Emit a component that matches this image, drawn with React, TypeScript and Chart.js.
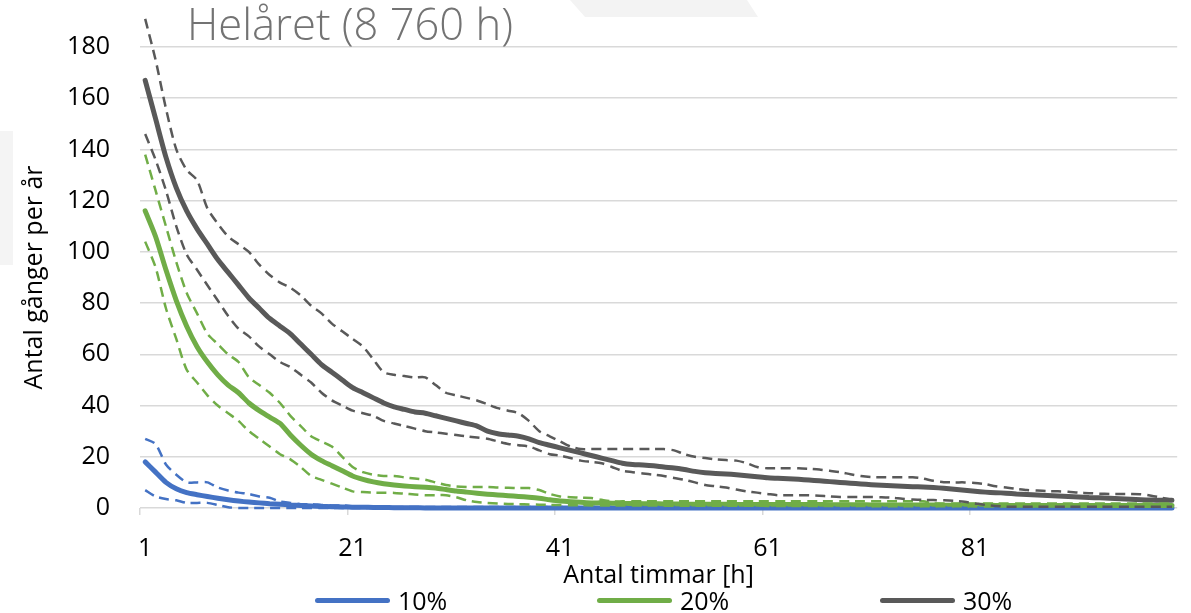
import React, { useEffect, useRef } from 'react';
import { Chart, registerables } from 'chart.js';

Chart.register(...registerables);

// Categories: hours 1..100
const hours: string[] = Array.from({ length: 100 }, (_, i) => String(i + 1));
const xTickLabels = ['1', '21', '41', '61', '81'];
const yTicks = [0, 20, 40, 60, 80, 100, 120, 140, 160, 180];

const titleText = 'Helåret (8 760 h)';
const xTitle = 'Antal timmar [h]';
const yTitle = 'Antal gånger per år';

// 10 %
const mean10 = [
  18, 14, 10, 7.5, 6, 5.2, 4.5, 3.8, 3.2, 2.7,
  2.3, 2, 1.7, 1.5, 1.2, 1, 0.8, 0.6, 0.5, 0.4,
  0.3, 0.3, 0.2, 0.2, 0.1, 0.1, 0.1, 0, 0, 0,
  0, 0, 0, 0, 0, 0, 0, 0, 0, 0,
  0, 0, 0, 0, 0, 0, 0, 0, 0, 0,
  0, 0, 0, 0, 0, 0, 0, 0, 0, 0,
  0, 0, 0, 0, 0, 0, 0, 0, 0, 0,
  0, 0, 0, 0, 0, 0, 0, 0, 0, 0,
  0, 0, 0, 0, 0, 0, 0, 0, 0, 0,
  0, 0, 0, 0, 0, 0, 0, 0, 0, 0,
];
const upper10 = [
  27, 25, 17, 13, 10, 10, 10, 8, 6.8, 6,
  5.5, 4.5, 4, 2.5, 2, 1.5, 1.5, 1.2, 1, 1,
  0.7, 0.5, 0.5, 0.5, 0.4, 0.4, 0.4, 0.4, 0.4, 0.4,
  0.4, 0.4, 0.4, 0.4, 0.4, 0.4, 0.4, 0.4, 0.4, 0.4,
  0.4, 0.4, 0.4, 0.4, 0.4, 0.4, 0.4, 0.4, 0.4, 0.4,
  0.4, 0.4, 0.4, 0.4, 0.4, 0.4, 0.4, 0.4, 0.2, 0.2,
  0.2, 0.2, 0.2, 0.2, 0.2, 0.2, 0.2, 0.2, 0.2, 0.2,
  0.2, 0.2, 0.2, 0.2, 0.2, 0.2, 0.2, 0.2, 0.2, 0.2,
  0.2, 0.2, 0.2, 0.2, 0.2, 0.2, 0.2, 0.2, 0.2, 0.2,
  0.2, 0.2, 0.2, 0.2, 0.2, 0.2, 0.2, 0.2, 0.2, 0.2,
];
const lower10 = [
  7, 4.5, 3.5, 3, 2, 2, 2, 1.2, 0.3, 0,
  0, 0, 0, 0, 0, 0, 0, 0, 0, 0,
  0, 0, 0, 0, 0, 0, 0, 0, 0, 0,
  0, 0, 0, 0, 0, 0, 0, 0, 0, 0,
  0, 0, 0, 0, 0, 0, 0, 0, 0, 0,
  0, 0, 0, 0, 0, 0, 0, 0, 0, 0,
  0, 0, 0, 0, 0, 0, 0, 0, 0, 0,
  0, 0, 0, 0, 0, 0, 0, 0, 0, 0,
  0, 0, 0, 0, 0, 0, 0, 0, 0, 0,
  0, 0, 0, 0, 0, 0, 0, 0, 0, 0,
];

// 20 %
const mean20 = [
  116, 106, 93, 81, 71, 63, 57, 52, 48, 45,
  41, 38, 35.5, 33, 28.5, 24.5, 21, 18.5, 16.5, 14.5,
  12.5, 11.2, 10.2, 9.5, 9, 8.6, 8.3, 8.1, 7.8, 7.2,
  6.6, 6.2, 5.8, 5.4, 5.1, 4.8, 4.5, 4.2, 3.8, 3.2,
  2.7, 2.4, 2.2, 2, 2, 1.9, 1.8, 1.8, 1.7, 1.7,
  1.6, 1.6, 1.5, 1.5, 1.5, 1.5, 1.5, 1.4, 1.4, 1.4,
  1.4, 1.4, 1.4, 1.4, 1.4, 1.4, 1.3, 1.3, 1.3, 1.3,
  1.2, 1.2, 1.2, 1.2, 1.2, 1.2, 1.2, 1.1, 1.1, 1.1,
  1.1, 1.1, 1, 1, 1, 1, 1, 1, 1, 1,
  1, 1, 1, 1, 1, 1, 1, 1, 1, 1,
];
const upper20 = [
  138, 124, 110, 96, 84, 76, 68, 64, 60, 57,
  51, 48, 45, 41, 36, 32, 28, 26, 24, 20,
  16, 14, 13, 12.5, 12.5, 12, 11.5, 11, 10, 9,
  8.4, 8.2, 8.2, 8.2, 8, 7.9, 7.8, 7.8, 7, 5.5,
  4.5, 4.2, 4, 3.9, 3.2, 2.6, 2.6, 2.6, 2.6, 2.6,
  2.6, 2.6, 2.6, 2.6, 2.6, 2.6, 2.6, 2.6, 2.6, 2.6,
  2.6, 2.6, 2.6, 2.6, 2.6, 2.6, 2.6, 2.6, 2.6, 2.6,
  2.6, 2.6, 2.6, 2.6, 2.6, 2.6, 1.8, 1.8, 1.8, 1.8,
  1.8, 1.8, 1.8, 1.8, 1.8, 1.8, 1.8, 1.8, 1.8, 1.8,
  1.8, 1.8, 1.8, 1.8, 1.8, 1.8, 1.8, 1.8, 1.8, 1.8,
];
const lower20 = [
  104, 94, 78, 66, 54, 49, 44, 40, 37, 34,
  30, 27, 24, 21, 19, 16, 12.5, 11, 9.5, 8,
  6.5, 6.2, 6, 6, 5.9, 5.6, 5.3, 5, 5, 5,
  4.2, 3, 2.3, 2, 1.8, 1.6, 1.5, 1.4, 1.3, 1.2,
  1.2, 1.1, 1.1, 1, 1, 1, 1, 1, 1, 1,
  0.9, 0.9, 0.9, 0.9, 0.9, 0.9, 0.9, 0.9, 0.9, 0.9,
  0.8, 0.8, 0.8, 0.8, 0.8, 0.8, 0.8, 0.8, 0.8, 0.8,
  0.7, 0.7, 0.7, 0.7, 0.7, 0.7, 0.7, 0.7, 0.7, 0.7,
  0.6, 0.6, 0.6, 0.6, 0.6, 0.6, 0.6, 0.6, 0.6, 0.6,
  0.5, 0.5, 0.5, 0.5, 0.5, 0.5, 0.5, 0.5, 0.5, 0.5,
];

// 30 %
const mean30 = [
  167, 152, 137, 125, 116, 109, 103, 97, 92, 87,
  82, 78, 74, 71, 68, 64, 60, 56, 53, 50,
  47, 45, 43, 41, 39.5, 38.5, 37.5, 37, 36, 35,
  34, 33, 32, 30, 29, 28.5, 28, 27, 25.5, 24.5,
  23.5, 22.5, 21.5, 20.5, 19.5, 18.5, 17.5, 17, 16.8, 16.5,
  16, 15.6, 15, 14.3, 13.8, 13.5, 13.3, 13, 12.6, 12.2,
  11.8, 11.6, 11.4, 11.2, 10.9, 10.6, 10.3, 10, 9.7, 9.4,
  9.1, 8.9, 8.7, 8.5, 8.3, 8.2, 8, 7.7, 7.3, 6.9,
  6.5, 6.2, 6, 5.8, 5.5, 5.3, 5.1, 4.9, 4.7, 4.5,
  4.3, 4.1, 4, 3.8, 3.6, 3.4, 3.2, 3.1, 3, 3,
];
const upper30 = [
  191, 175, 156, 140, 132, 128, 117, 111, 106, 103,
  100, 95, 91, 88, 86, 83, 79, 76, 72, 69,
  66, 63, 58, 53, 52, 51.5, 51, 51, 48, 45,
  44, 43, 42, 40.5, 39, 38, 37, 34, 30, 28,
  26, 24, 23, 23, 23, 23, 23, 23, 23, 23,
  23, 22.5, 21, 20, 19.5, 19, 18.7, 18.5, 17.5, 16,
  15.5, 15.5, 15.5, 15.5, 15.3, 15, 14.5, 14, 13.2, 12.5,
  12.1, 12, 12, 12, 12, 11.5, 10.6, 10.1, 10, 10,
  9.8, 9.3, 8.5, 8, 7.5, 7, 6.8, 6.6, 6.5, 6.3,
  6, 5.8, 5.6, 5.5, 5.5, 5.5, 5.4, 4.8, 4, 3.2,
];
const lower30 = [
  146, 136, 124, 110, 99, 93, 87, 81, 75, 70,
  67, 63, 60, 57, 55, 52, 49, 45, 42, 40,
  38, 37, 36, 34, 33, 32, 31, 30, 29.5, 29,
  28.5, 28, 27.5, 27, 26, 25, 24.5, 24, 22.5, 21,
  20.5, 19.5, 18.5, 18, 17.5, 16, 14.5, 14, 13.5, 13,
  12.5, 11.7, 11, 10, 9, 8.5, 8, 7.2, 6.5, 6,
  5.5, 5, 5, 5, 5, 4.8, 4.5, 4.3, 4.3, 4.3,
  4.3, 4.2, 4, 3.6, 3.3, 3.2, 3.1, 3, 2.8, 2.4,
  1.8, 1.2, 0.8, 0.5, 0.5, 0.5, 0.5, 0.5, 0.5, 0.5,
  0.5, 0.5, 0.5, 0.5, 0.5, 0.5, 0.5, 0.5, 0.5, 0.5,
];

const seriesNames = ['10%', '20%', '30%'];
const seriesColors = ['#4472C4', '#70AD47', '#595959'];
const seriesMeans = [mean10, mean20, mean30];
const seriesUppers = [upper10, upper20, upper30];
const seriesLowers = [lower10, lower20, lower30];

const FONT = '"Open Sans", "Noto Sans", sans-serif';
const legendLineLeft = [315, 597, 880];

export default function App() {
  const ref = useRef<HTMLCanvasElement>(null);

  useEffect(() => {
    if (!ref.current) return;
    const datasets: any[] = [];
    seriesNames.forEach((name, i) => {
      datasets.push({
        label: name,
        data: seriesMeans[i],
        borderColor: seriesColors[i],
        backgroundColor: seriesColors[i],
        borderWidth: 5,
        borderCapStyle: 'round',
        borderJoinStyle: 'round',
        pointRadius: 0,
        pointHoverRadius: 0,
        tension: 0.25,
        clip: false,
        order: 6 - i,
      });
    });
    seriesNames.forEach((name, i) => {
      [seriesUppers[i], seriesLowers[i]].forEach((arr, k) => {
        datasets.push({
          label: name + (k === 0 ? ' max' : ' min'),
          data: arr,
          borderColor: seriesColors[i],
          backgroundColor: seriesColors[i],
          borderWidth: 2.5,
          borderDash: [10, 6],
          pointRadius: 0,
          pointHoverRadius: 0,
          tension: 0.25,
          clip: false,
          order: 3 - i,
        });
      });
    });

    const gridCol = (ctx: any) =>
      ctx.index < hours.length && xTickLabels.includes(hours[ctx.index]) ? '#d9d9d9' : 'rgba(0,0,0,0)';

    const chart = new Chart(ref.current, {
      type: 'line',
      data: { labels: hours, datasets },
      options: {
        animation: false,
        responsive: false,
        maintainAspectRatio: false,
        layout: { padding: { top: 47, left: 0, right: 1, bottom: 0 } },
        plugins: {
          legend: { display: false },
          tooltip: { enabled: false },
          title: { display: false },
        },
        scales: {
          x: {
            type: 'category',
            offset: true,
            grid: {
              offset: true,
              drawOnChartArea: false,
              drawTicks: true,
              tickLength: 7,
              color: gridCol,
              tickColor: gridCol,
              lineWidth: 1.5,
            },
            border: { display: false },
            ticks: {
              autoSkip: false,
              maxRotation: 0,
              padding: 19,
              color: '#000',
              font: { family: FONT, size: 25 },
              callback: (_v: any, index: number) =>
                xTickLabels.includes(hours[index]) ? hours[index] : '',
            },
            title: {
              display: true,
              text: xTitle,
              color: '#000',
              font: { family: FONT, size: 25 },
              padding: { top: 0, bottom: 22 },
            },
            afterFit: (s: any) => {
              s.height = 105;
            },
          },
          y: {
            min: 0,
            max: 180,
            afterBuildTicks: (s: any) => {
              s.ticks = yTicks.map((v) => ({ value: v }));
            },
            grid: { color: '#d9d9d9', lineWidth: 1.5, drawTicks: false },
            border: { display: false },
            ticks: {
              padding: 30,
              color: '#000',
              font: { family: FONT, size: 25 },
            },
            title: {
              display: true,
              text: yTitle,
              color: '#000',
              font: { family: FONT, size: 25 },
              padding: { top: 20, bottom: 0 },
            },
            afterFit: (s: any) => {
              s.width = 140;
            },
          },
        },
      } as any,
    });
    return () => chart.destroy();
  }, []);

  return (
    <div
      style={{
        position: 'fixed',
        left: 0,
        top: 0,
        width: 1191,
        height: 613,
        overflow: 'hidden',
        background: '#fff',
        fontFamily: FONT,
      }}
    >
      <div style={{ position: 'absolute', left: 0, top: 131, width: 13, height: 134, background: '#f4f4f4' }} />
      <div
        style={{
          position: 'absolute',
          left: 570,
          top: 0,
          width: 188,
          height: 17,
          background: '#f3f3f3',
          clipPath: 'polygon(0px 0px, 177px 0px, 188px 17px, 15px 17px)',
        }}
      />
      <canvas
        ref={ref}
        width={1191}
        height={613}
        style={{ position: 'absolute', left: 0, top: 0, width: 1191, height: 613 }}
      />
      <div
        style={{
          position: 'absolute',
          left: 187,
          top: 2,
          fontSize: 43.5,
          lineHeight: '43.5px',
          fontWeight: 300,
          color: '#737373',
          whiteSpace: 'nowrap',
        }}
      >
        {titleText}
      </div>
      {seriesNames.map((name, i) => (
        <React.Fragment key={name}>
          <div
            style={{
              position: 'absolute',
              left: legendLineLeft[i],
              top: 597.5,
              width: 75,
              height: 5,
              borderRadius: 2.5,
              background: seriesColors[i],
            }}
          />
          <div
            style={{
              position: 'absolute',
              left: legendLineLeft[i] + 83,
              top: 585,
              fontSize: 25,
              lineHeight: '30px',
              color: '#000',
              whiteSpace: 'nowrap',
            }}
          >
            {name}
          </div>
        </React.Fragment>
      ))}
    </div>
  );
}
